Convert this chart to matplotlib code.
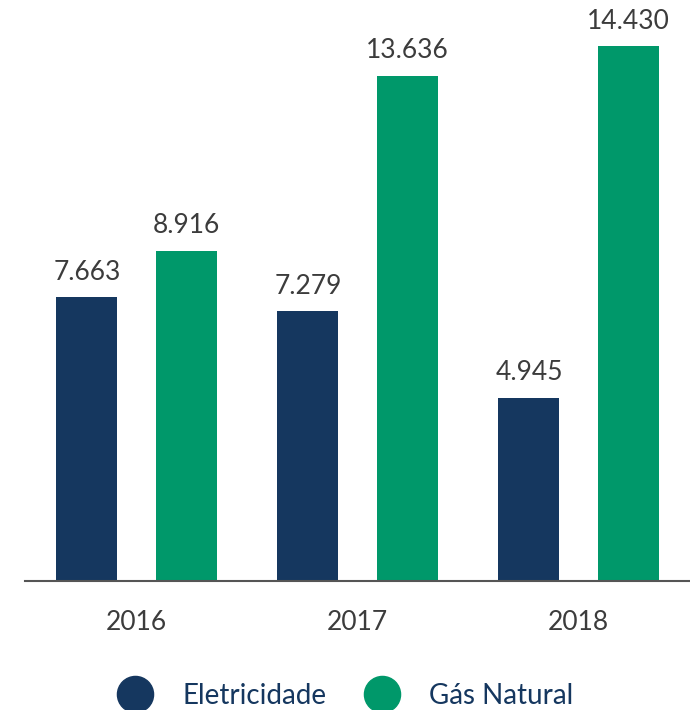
import numpy as np
import matplotlib.pyplot as plt
from matplotlib.lines import Line2D

plt.rcParams['font.family'] = ['Lato', 'DejaVu Sans']

years = ['2016', '2017', '2018']
eletricidade = [7663, 7279, 4945]
gas_natural = [8916, 13636, 14430]
series_names = ['Eletricidade', 'Gás Natural']

navy = '#15375f'
green = '#00986a'
text_col = '#3c3c3c'

fig = plt.figure(figsize=(6.9, 7.1), dpi=100)
ax = fig.add_axes([25 / 690, 129 / 710, 665 / 690, 581 / 710])

x = np.arange(len(years))
off = 0.224
w = 0.276

b1 = ax.bar(x - off, eletricidade, w, color=navy)
b2 = ax.bar(x + off, gas_natural, w, color=green)

for bars, vals in ((b1, eletricidade), (b2, gas_natural)):
    for rect, v in zip(bars, vals):
        label = f"{v:,}".replace(',', '.')
        ax.annotate(label, (rect.get_x() + rect.get_width() / 2, v),
                    xytext=(0, 9), textcoords='offset points',
                    ha='center', va='bottom', fontsize=19, color=text_col)

ax.set_xlim(-(136.5 - 25) / 221, (690 - 136.5) / 221)
ax.set_ylim(0, 15677)
ax.set_xticks(x)
ax.set_xticklabels(years, fontsize=19, color=text_col)
ax.tick_params(axis='x', length=0, pad=21)
ax.set_yticks([])
for s in ('top', 'right', 'left'):
    ax.spines[s].set_visible(False)
ax.spines['bottom'].set_color('#555555')
ax.spines['bottom'].set_linewidth(1.5)

handles = [Line2D([], [], marker='o', ls='none', markersize=26, color=c)
           for c in (navy, green)]
leg = fig.legend(handles, series_names, loc='center',
                 bbox_to_anchor=(346 / 690, 1 - 696 / 710), ncol=2,
                 frameon=False, fontsize=20, handletextpad=1.1,
                 columnspacing=1.4, handlelength=1.2)
for t in leg.get_texts():
    t.set_color(navy)

fig.savefig('out.png', dpi=100)
